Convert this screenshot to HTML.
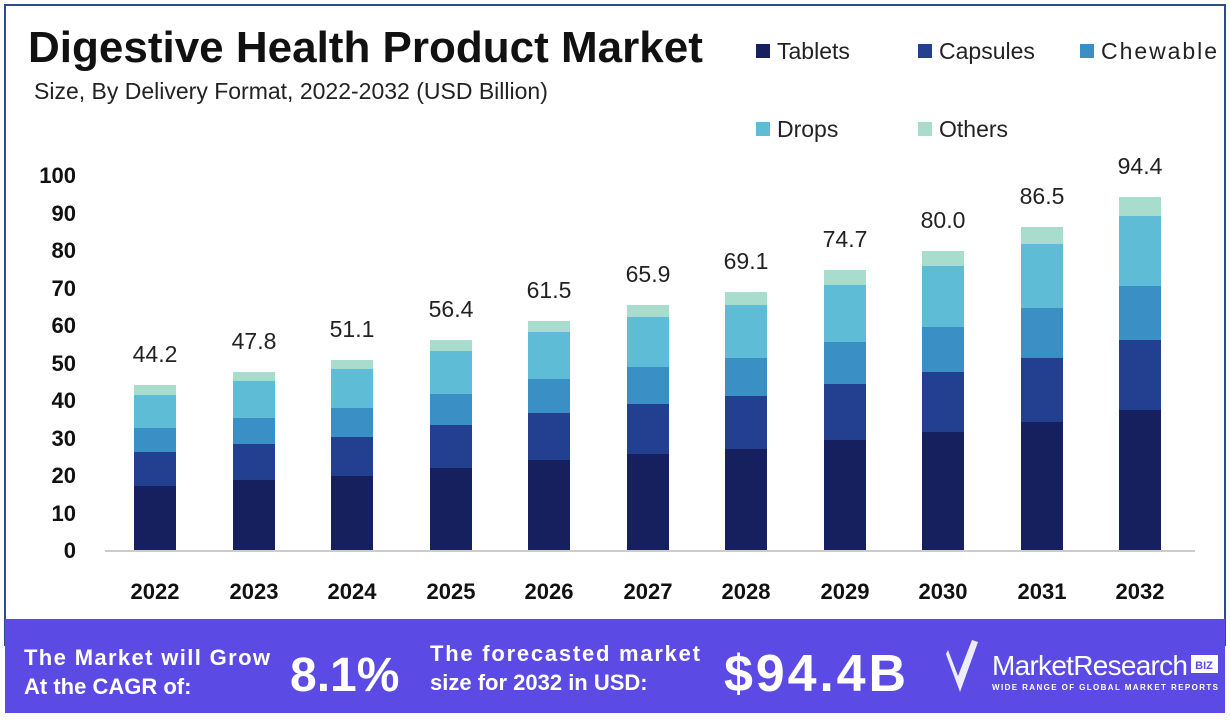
<!DOCTYPE html><html><head><meta charset="utf-8"><style>body{margin:0;background:#fff}svg{display:block}text{font-family:"Liberation Sans",sans-serif}</style></head><body>
<svg width="1230" height="720" viewBox="0 0 1230 720" xmlns="http://www.w3.org/2000/svg">
<rect width="1230" height="720" fill="#fff"/>
<rect x="5" y="5" width="1220" height="640" fill="none" stroke="#2e4a8f" stroke-width="2"/>
<text x="28" y="62" font-size="44" font-weight="bold" fill="#111">Digestive Health Product Market</text>
<text x="34" y="99" font-size="23" fill="#222">Size, By Delivery Format, 2022-2032 (USD Billion)</text>
<g font-size="23" fill="#222">
<rect x="756" y="44" width="14" height="14" fill="#16205f"/><text x="777" y="59">Tablets</text>
<rect x="918" y="44" width="14" height="14" fill="#233f8f"/><text x="939" y="59">Capsules</text>
<rect x="1080" y="44" width="14" height="14" fill="#3a8fc4"/><text x="1101" y="59" textLength="116">Chewable</text>
<rect x="756" y="122" width="14" height="14" fill="#5fbcd6"/><text x="777" y="137">Drops</text>
<rect x="918" y="122" width="14" height="14" fill="#a8dccc"/><text x="939" y="137">Others</text>
</g>
<g font-size="22" font-weight="bold" fill="#111" text-anchor="end">
<text x="76" y="183">100</text><text x="76" y="221">90</text><text x="76" y="258">80</text><text x="76" y="296">70</text><text x="76" y="333">60</text><text x="76" y="371">50</text><text x="76" y="408">40</text><text x="76" y="446">30</text><text x="76" y="483">20</text><text x="76" y="521">10</text><text x="76" y="558">0</text>
</g>
<line x1="105" y1="551" x2="1195" y2="551" stroke="#ccc" stroke-width="2"/>
<g>
<rect x="134" y="385" width="42" height="165" fill="#a8dccc"/><rect x="134" y="395" width="42" height="155" fill="#5fbcd6"/><rect x="134" y="428" width="42" height="122" fill="#3a8fc4"/><rect x="134" y="452" width="42" height="98" fill="#233f8f"/><rect x="134" y="486" width="42" height="64" fill="#16205f"/>
<rect x="233" y="372" width="42" height="178" fill="#a8dccc"/><rect x="233" y="381" width="42" height="169" fill="#5fbcd6"/><rect x="233" y="418" width="42" height="132" fill="#3a8fc4"/><rect x="233" y="444" width="42" height="106" fill="#233f8f"/><rect x="233" y="480" width="42" height="70" fill="#16205f"/>
<rect x="331" y="360" width="42" height="190" fill="#a8dccc"/><rect x="331" y="369" width="42" height="181" fill="#5fbcd6"/><rect x="331" y="408" width="42" height="142" fill="#3a8fc4"/><rect x="331" y="437" width="42" height="113" fill="#233f8f"/><rect x="331" y="476" width="42" height="74" fill="#16205f"/>
<rect x="430" y="340" width="42" height="210" fill="#a8dccc"/><rect x="430" y="351" width="42" height="199" fill="#5fbcd6"/><rect x="430" y="394" width="42" height="156" fill="#3a8fc4"/><rect x="430" y="425" width="42" height="125" fill="#233f8f"/><rect x="430" y="468" width="42" height="82" fill="#16205f"/>
<rect x="528" y="321" width="42" height="229" fill="#a8dccc"/><rect x="528" y="332" width="42" height="218" fill="#5fbcd6"/><rect x="528" y="379" width="42" height="171" fill="#3a8fc4"/><rect x="528" y="413" width="42" height="137" fill="#233f8f"/><rect x="528" y="460" width="42" height="90" fill="#16205f"/>
<rect x="627" y="305" width="42" height="245" fill="#a8dccc"/><rect x="627" y="317" width="42" height="233" fill="#5fbcd6"/><rect x="627" y="367" width="42" height="183" fill="#3a8fc4"/><rect x="627" y="404" width="42" height="146" fill="#233f8f"/><rect x="627" y="454" width="42" height="96" fill="#16205f"/>
<rect x="725" y="292" width="42" height="258" fill="#a8dccc"/><rect x="725" y="305" width="42" height="245" fill="#5fbcd6"/><rect x="725" y="358" width="42" height="192" fill="#3a8fc4"/><rect x="725" y="396" width="42" height="154" fill="#233f8f"/><rect x="725" y="449" width="42" height="101" fill="#16205f"/>
<rect x="824" y="270" width="42" height="280" fill="#a8dccc"/><rect x="824" y="285" width="42" height="265" fill="#5fbcd6"/><rect x="824" y="342" width="42" height="208" fill="#3a8fc4"/><rect x="824" y="384" width="42" height="166" fill="#233f8f"/><rect x="824" y="440" width="42" height="110" fill="#16205f"/>
<rect x="922" y="251" width="42" height="299" fill="#a8dccc"/><rect x="922" y="266" width="42" height="284" fill="#5fbcd6"/><rect x="922" y="327" width="42" height="223" fill="#3a8fc4"/><rect x="922" y="372" width="42" height="178" fill="#233f8f"/><rect x="922" y="432" width="42" height="118" fill="#16205f"/>
<rect x="1021" y="227" width="42" height="323" fill="#a8dccc"/><rect x="1021" y="244" width="42" height="306" fill="#5fbcd6"/><rect x="1021" y="308" width="42" height="242" fill="#3a8fc4"/><rect x="1021" y="358" width="42" height="192" fill="#233f8f"/><rect x="1021" y="422" width="42" height="128" fill="#16205f"/>
<rect x="1119" y="197" width="42" height="353" fill="#a8dccc"/><rect x="1119" y="216" width="42" height="334" fill="#5fbcd6"/><rect x="1119" y="286" width="42" height="264" fill="#3a8fc4"/><rect x="1119" y="340" width="42" height="210" fill="#233f8f"/><rect x="1119" y="410" width="42" height="140" fill="#16205f"/>
</g>
<g font-size="23" fill="#222" text-anchor="middle">
<text x="155" y="362">44.2</text><text x="254" y="349">47.8</text><text x="352" y="337">51.1</text><text x="451" y="317">56.4</text><text x="549" y="298">61.5</text><text x="648" y="282">65.9</text><text x="746" y="269">69.1</text><text x="845" y="247">74.7</text><text x="943" y="228">80.0</text><text x="1042" y="204">86.5</text><text x="1140" y="174">94.4</text>
</g>
<g font-size="22" font-weight="bold" fill="#111" text-anchor="middle">
<text x="155" y="599">2022</text><text x="254" y="599">2023</text><text x="352" y="599">2024</text><text x="451" y="599">2025</text><text x="549" y="599">2026</text><text x="648" y="599">2027</text><text x="746" y="599">2028</text><text x="845" y="599">2029</text><text x="943" y="599">2030</text><text x="1042" y="599">2031</text><text x="1140" y="599">2032</text>
</g>
<rect x="5" y="619" width="1220" height="94" fill="#5b4ae3"/>
<g fill="#fff" font-weight="bold">
<text x="24" y="665" font-size="22" textLength="246">The Market will Grow</text>
<text x="24" y="694" font-size="22">At the CAGR of:</text>
<text x="290" y="691" font-size="48">8.1%</text>
<text x="430" y="661" font-size="22" textLength="270">The forecasted market</text>
<text x="430" y="690" font-size="22">size for 2032 in USD:</text>
<text x="724" y="691" font-size="52" textLength="182">$94.4B</text>
<path d="M948 650 L958 676 L972 640 L978 642 L960 692 L946 654 Z" fill="#fff" opacity="0.9"/>
<text x="992" y="675" font-size="28" font-weight="normal" textLength="196">MarketResearch</text>
<rect x="1191" y="655" width="27" height="18" fill="#fff"/><text x="1204" y="669" font-size="11" fill="#5b4ae3" text-anchor="middle">BIZ</text>
<text x="992" y="690" font-size="8" textLength="226">WIDE RANGE OF GLOBAL MARKET REPORTS</text>
</g>
</svg>
</body></html>
